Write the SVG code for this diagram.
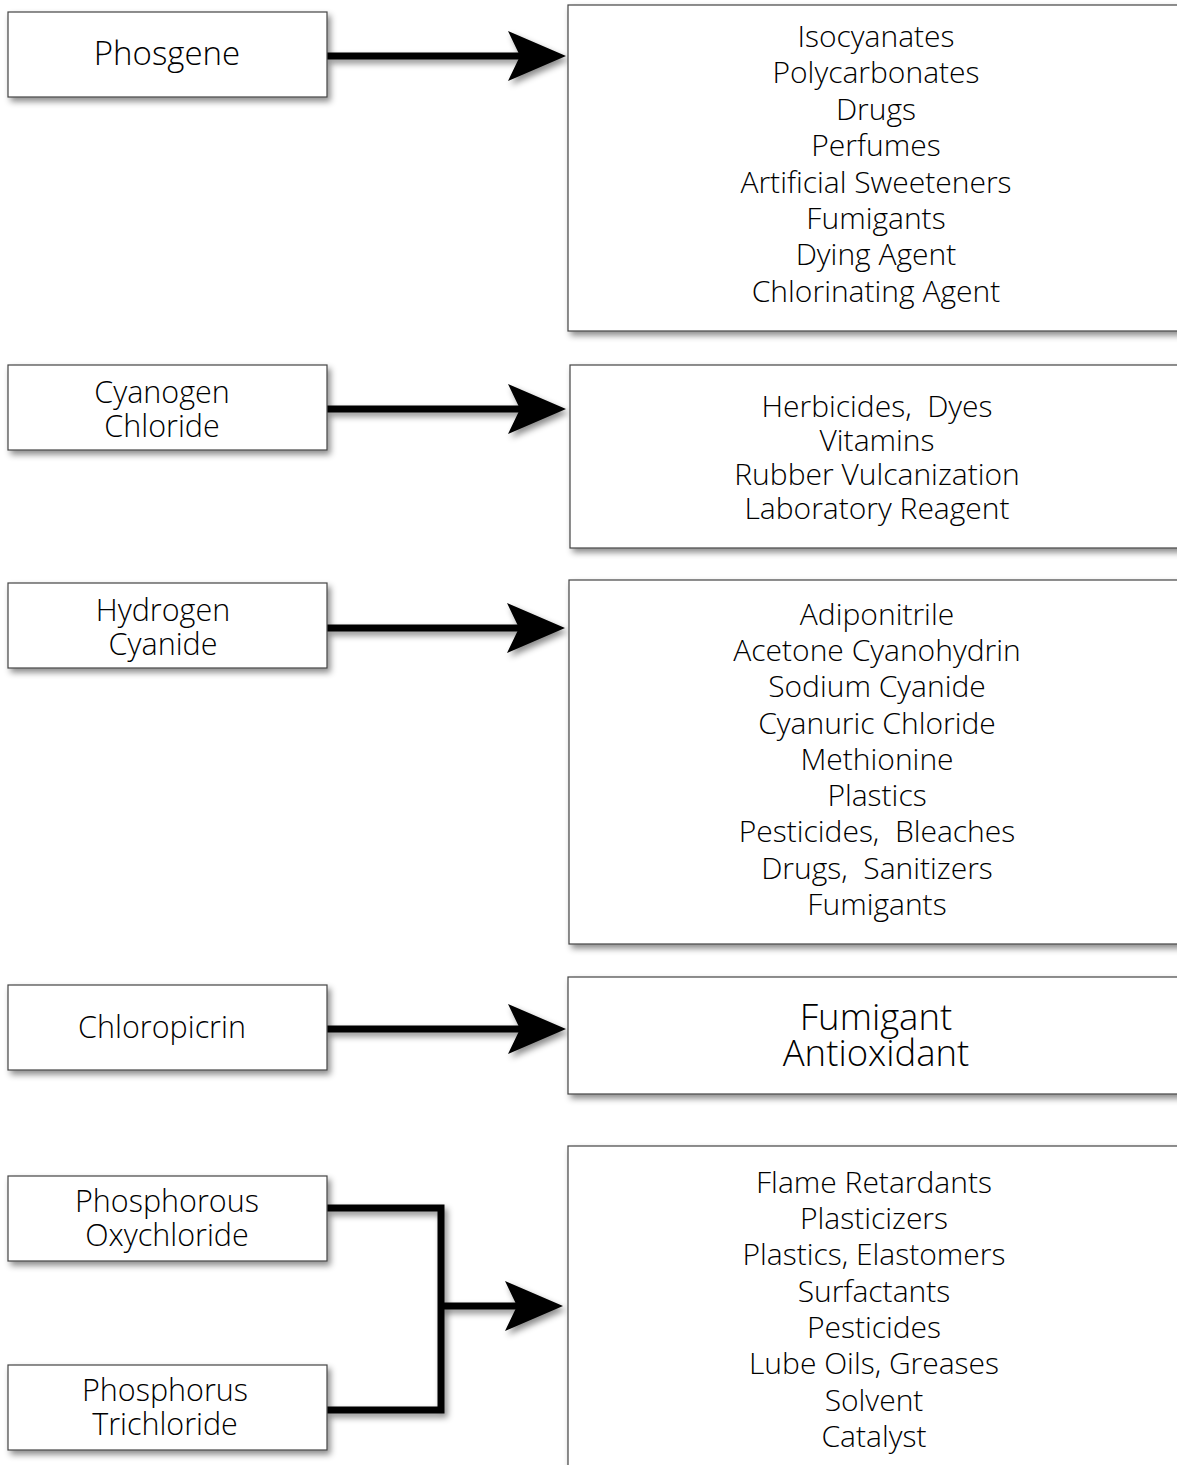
<svg xmlns="http://www.w3.org/2000/svg" width="1177" height="1465" viewBox="0 0 1177 1465">
<style>
.box{fill:#fff;stroke:#444;stroke-width:1.2;filter:url(#sh)}
.t{font-family:"Open Sans","Liberation Sans",sans-serif;font-weight:300;font-size:30px;fill:#000;text-anchor:middle;white-space:pre}
.l{font-size:30.5px}
.big{font-size:36.5px}
.c{fill:none;stroke:#000;stroke-width:7;filter:url(#sh)}
</style>
<defs>
<filter id="sh" filterUnits="userSpaceOnUse" x="0" y="0" width="1300" height="1500">
<feDropShadow dx="3" dy="4" stdDeviation="3" flood-color="#000" flood-opacity="0.45"/>
</filter>
<marker id="ah" markerUnits="userSpaceOnUse" markerWidth="60" markerHeight="60" viewBox="0 0 60 50" refX="32" refY="25" orient="auto">
<path d="M0,0 L58,25 L0,50 L12,25 Z" fill="#000"/>
</marker>
</defs>
<g id="connectors">
<path class="c" d="M327,56 H540" marker-end="url(#ah)"/>
<path class="c" d="M327,409 H540" marker-end="url(#ah)"/>
<path class="c" d="M327,628 H539" marker-end="url(#ah)"/>
<path class="c" d="M327,1029 H540" marker-end="url(#ah)"/>
<path class="c" d="M327,1208 H441 V1410 H327"/>
<path class="c" d="M441,1306 H537" marker-end="url(#ah)"/>
</g>
<g id="phosgene"><rect class="box" x="8" y="12" width="319" height="85"/><text class="t" style="font-size:33px" x="167" y="65">Phosgene</text></g>
<g id="cyanogen-chloride"><rect class="box" x="8" y="365" width="319" height="85"/><text class="t l" x="162" y="403">Cyanogen</text><text class="t l" x="162" y="437">Chloride</text></g>
<g id="hydrogen-cyanide"><rect class="box" x="8" y="583" width="319" height="85"/><text class="t l" x="163" y="621">Hydrogen</text><text class="t l" x="163" y="655">Cyanide</text></g>
<g id="chloropicrin"><rect class="box" x="8" y="985" width="319" height="85"/><text class="t l" x="162" y="1038">Chloropicrin</text></g>
<g id="phosphorous-oxychloride"><rect class="box" x="8" y="1176" width="319" height="85"/><text class="t l" x="167" y="1212">Phosphorous</text><text class="t l" x="167" y="1246">Oxychloride</text></g>
<g id="phosphorus-trichloride"><rect class="box" x="8" y="1365" width="319" height="85"/><text class="t l" x="165" y="1401">Phosphorus</text><text class="t l" x="165" y="1435">Trichloride</text></g>
<g id="phosgene-uses"><rect class="box" x="568" y="5" width="640" height="326"/>
<text class="t" x="876" y="47">Isocyanates</text>
<text class="t" x="876" y="83">Polycarbonates</text>
<text class="t" x="876" y="120">Drugs</text>
<text class="t" x="876" y="156">Perfumes</text>
<text class="t" x="876" y="193">Artificial Sweeteners</text>
<text class="t" x="876" y="229">Fumigants</text>
<text class="t" x="876" y="265">Dying Agent</text>
<text class="t" x="876" y="302">Chlorinating Agent</text>
</g>
<g id="cyanogen-uses"><rect class="box" x="570" y="365" width="640" height="183"/>
<text class="t" x="877" y="417">Herbicides,  Dyes</text>
<text class="t" x="877" y="451">Vitamins</text>
<text class="t" x="877" y="485">Rubber Vulcanization</text>
<text class="t" x="877" y="519">Laboratory Reagent</text>
</g>
<g id="hydrogen-cyanide-uses"><rect class="box" x="569" y="580" width="640" height="364"/>
<text class="t" x="877" y="625">Adiponitrile</text>
<text class="t" x="877" y="661">Acetone Cyanohydrin</text>
<text class="t" x="877" y="697">Sodium Cyanide</text>
<text class="t" x="877" y="734">Cyanuric Chloride</text>
<text class="t" x="877" y="770">Methionine</text>
<text class="t" x="877" y="806">Plastics</text>
<text class="t" x="877" y="842">Pesticides,  Bleaches</text>
<text class="t" x="877" y="879">Drugs,  Sanitizers</text>
<text class="t" x="877" y="915">Fumigants</text>
</g>
<g id="chloropicrin-uses"><rect class="box" x="568" y="977" width="640" height="117"/>
<text class="t big" x="876" y="1030">Fumigant</text>
<text class="t big" x="876" y="1066">Antioxidant</text>
</g>
<g id="phosphorus-uses"><rect class="box" x="568" y="1146" width="640" height="340"/>
<text class="t" x="874" y="1193">Flame Retardants</text>
<text class="t" x="874" y="1229">Plasticizers</text>
<text class="t" x="874" y="1265">Plastics, Elastomers</text>
<text class="t" x="874" y="1302">Surfactants</text>
<text class="t" x="874" y="1338">Pesticides</text>
<text class="t" x="874" y="1374">Lube Oils, Greases</text>
<text class="t" x="874" y="1411">Solvent</text>
<text class="t" x="874" y="1447">Catalyst</text>
</g>
</svg>
